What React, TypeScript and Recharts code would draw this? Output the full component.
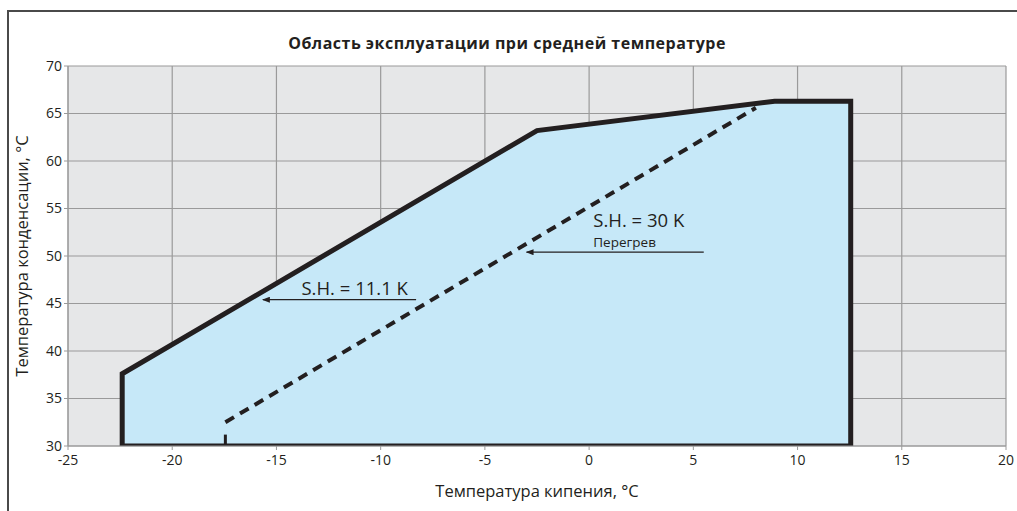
import React from "react";
import {
  ComposedChart,
  Area,
  Line,
  XAxis,
  YAxis,
  CartesianGrid,
  ReferenceLine,
  ReferenceDot,
} from "recharts";

const INK = "#231f20";
const GRID = "#9a9a9a";
const PLOT_BG = "#e6e7e8";
const ENVELOPE_FILL = "#c6e8f8";
const FONT = "'Open Sans', 'DejaVu Sans', sans-serif";

const xTicks = [-25, -20, -15, -10, -5, 0, 5, 10, 15, 20];
const yTicks = [30, 35, 40, 45, 50, 55, 60, 65, 70];

// upper edge of the operating envelope (filled down to 30 °C)
const envelopeTop = [
  { x: -22.4, y: 37.6 },
  { x: -2.5, y: 63.2 },
  { x: 8.9, y: 66.3 },
  { x: 12.55, y: 66.3 },
];

// closed outline of the envelope
const envelopeOutline = [
  { x: -22.4, y: 30 },
  { x: -22.4, y: 37.6 },
  { x: -2.5, y: 63.2 },
  { x: 8.9, y: 66.3 },
  { x: 12.55, y: 66.3 },
  { x: 12.55, y: 30 },
  { x: -22.4, y: 30 },
];

// S.H. = 30 K limit
const superheatLine = [
  { x: -17.45, y: 32.5 },
  { x: 8.0, y: 65.6 },
];

const superheatStub = [
  { x: -17.45, y: 30 },
  { x: -17.45, y: 31.2 },
];

const arrows = [
  { x1: 5.5, x2: -3.0, y: 50.4 },
  { x1: -8.3, x2: -15.65, y: 45.4 },
];

const notes = [
  { x: 0.2, y: 53.7, text: "S.H. = 30 K", size: 18.5 },
  { x: 0.2, y: 51.4, text: "Перегрев", size: 13.5 },
  { x: -13.8, y: 46.6, text: "S.H. = 11.1 K", size: 18.5 },
];

export default function App() {
  return (
    <div
      style={{
        position: "fixed",
        left: 0,
        top: 0,
        width: 1017,
        height: 511,
        background: "#fff",
        overflow: "hidden",
        fontFamily: FONT,
      }}
    >
      <div
        style={{
          position: "absolute",
          left: 7,
          top: 10,
          width: 1010,
          height: 501,
          borderTop: "2px solid #4a4a4a",
          borderLeft: "2px solid #4a4a4a",
          boxSizing: "border-box",
        }}
      />
      <div
        style={{
          position: "absolute",
          left: 0,
          top: 32,
          width: 1014,
          textAlign: "center",
          fontWeight: 700,
          fontSize: 16,
          letterSpacing: 0.5,
          color: INK,
        }}
      >
        Область эксплуатации при средней температуре
      </div>
      <div style={{ position: "absolute", left: 0, top: 0 }}>
        <ComposedChart
          width={1017}
          height={511}
          margin={{ top: 66, right: 11, bottom: 12, left: 8 }}
          style={{ fontFamily: FONT }}
        >
          <defs>
            <marker
              id="arrowHead"
              markerWidth="8"
              markerHeight="6"
              refX="7"
              refY="3"
              orient="auto"
              markerUnits="userSpaceOnUse"
            >
              <path d="M0,0 L8,3 L0,6 Z" fill={INK} />
            </marker>
          </defs>
          <CartesianGrid
            stroke={GRID}
            fill={PLOT_BG}
            fillOpacity={1}
            strokeWidth={1.2}
          />
          <XAxis
            dataKey="x"
            type="number"
            domain={[-25, 20]}
            ticks={xTicks}
            allowDataOverflow
            height={53}
            tickSize={4}
            tickMargin={5}
            stroke={GRID}
            tick={{ fill: INK, fontSize: 14 }}
            label={{
              value: "Температура кипения, °C",
              position: "insideBottom",
              offset: 2,
              fill: INK,
              fontSize: 16.5,
            }}
          />
          <YAxis
            type="number"
            domain={[30, 70]}
            ticks={yTicks}
            allowDataOverflow
            width={60}
            tickSize={4}
            tickMargin={2}
            stroke={GRID}
            tick={{ fill: INK, fontSize: 14 }}
            label={{
              value: "Температура конденсации, °C",
              angle: -90,
              position: "insideLeft",
              offset: 14,
              fill: INK,
              fontSize: 16.5,
              style: { textAnchor: "middle" },
            }}
          />
          <Area
            data={envelopeTop}
            dataKey="y"
            type="linear"
            baseValue={30}
            stroke="none"
            fill={ENVELOPE_FILL}
            fillOpacity={1}
            isAnimationActive={false}
          />
          <Line
            data={superheatLine}
            dataKey="y"
            type="linear"
            stroke={INK}
            strokeWidth={4}
            strokeDasharray="10 7"
            dot={false}
            isAnimationActive={false}
          />
          <Line
            data={superheatStub}
            dataKey="y"
            type="linear"
            stroke={INK}
            strokeWidth={3}
            dot={false}
            isAnimationActive={false}
          />
          <Line
            data={envelopeOutline}
            dataKey="y"
            type="linear"
            stroke={INK}
            strokeWidth={5}
            strokeLinejoin="miter"
            strokeLinecap="square"
            dot={false}
            isAnimationActive={false}
          />
          {arrows.map((a, i) => (
            <ReferenceLine
              key={"a" + i}
              segment={[
                { x: a.x1, y: a.y },
                { x: a.x2, y: a.y },
              ]}
              stroke={INK}
              strokeWidth={1.2}
              markerEnd="url(#arrowHead)"
            />
          ))}
          {notes.map((n, i) => (
            <ReferenceDot
              key={"n" + i}
              x={n.x}
              y={n.y}
              r={0}
              stroke="none"
              fill="none"
              label={{
                value: n.text,
                position: "right",
                offset: 0,
                fill: INK,
                fontSize: n.size,
              }}
            />
          ))}
        </ComposedChart>
      </div>
    </div>
  );
}
